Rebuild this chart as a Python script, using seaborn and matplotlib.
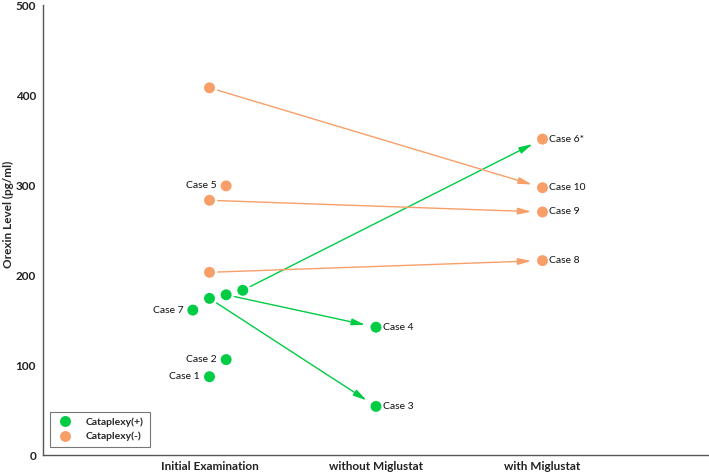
import pandas as pd
import matplotlib.pyplot as plt
import seaborn as sns

sns.set_style('white')
plt.rcParams['font.family'] = ['Lato', 'DejaVu Sans']

# -------------------------
# Data
# -------------------------
stages = ['Initial Examination', 'without Miglustat', 'with Miglustat']
green = '#00CC44'
orange = '#F89F69'

# every plotted point: case label, stage index, small horizontal offset, orexin level, group
point_case = ['Case 1', 'Case 2', 'Case 7', '', '', '', '', '', 'Case 5', '',
              'Case 3', 'Case 4', 'Case 6*', 'Case 8', 'Case 9', 'Case 10']
point_stage = [0, 0, 0, 0, 0, 0, 0, 0, 0, 0, 1, 1, 2, 2, 2, 2]
point_offset = [0, 0.1, -0.1, 0, 0.1, 0.2, 0, 0, 0.1, 0, 0, 0, 0, 0, 0, 0]
point_level = [87, 106, 161, 174, 178, 183, 203, 283, 299, 408, 54, 142, 351, 216, 270, 297]
point_group = ['Cataplexy(+)'] * 6 + ['Cataplexy(-)'] * 4 + \
              ['Cataplexy(+)'] * 2 + ['Cataplexy(-)'] * 4
label_side = ['left', 'left', 'left', '', '', '', '', '', 'left', '',
              'right', 'right', 'right', 'right', 'right', 'right']

# arrows: index of start point -> index of end point, colour group
arrow_from = [3, 4, 5, 6, 7, 9]
arrow_to = [10, 11, 12, 13, 14, 15]
arrow_group = ['Cataplexy(+)'] * 3 + ['Cataplexy(-)'] * 3

df = pd.DataFrame({
    'case': point_case,
    'x': [s + 1 + o for s, o in zip(point_stage, point_offset)],
    'level': point_level,
    'group': point_group,
    'side': label_side,
})

palette = {'Cataplexy(+)': green, 'Cataplexy(-)': orange}

# -------------------------
# Plot
# -------------------------
fig = plt.figure(figsize=(7.09, 4.73), dpi=100)
ax = fig.add_axes([43 / 709, 18 / 473, 666 / 709, 450 / 473])

for a, b, g in zip(arrow_from, arrow_to, arrow_group):
    ax.annotate('', xy=(df.x[b], df.level[b]), xytext=(df.x[a], df.level[a]),
                arrowprops=dict(arrowstyle='-|>,head_length=0.8,head_width=0.2',
                                color=palette[g], lw=1.0,
                                shrinkA=6, shrinkB=8), zorder=2)

sns.scatterplot(data=df, x='x', y='level', hue='group', palette=palette,
                hue_order=['Cataplexy(+)', 'Cataplexy(-)'],
                s=62, edgecolor='none', ax=ax, zorder=3)

for _, r in df.iterrows():
    if not r.case:
        continue
    if r.side == 'left':
        ax.annotate(r.case, (r.x, r.level), xytext=(-7, 0), textcoords='offset points',
                    ha='right', va='center', fontsize=7.5, color='#111111')
    else:
        ax.annotate(r.case, (r.x, r.level), xytext=(5, 0), textcoords='offset points',
                    ha='left', va='center', fontsize=7.5, color='#111111')

ax.set_xlim(0, 4)
ax.set_ylim(0, 500)
ax.set_xticks([1, 2, 3])
ax.set_xticklabels(stages)
ax.set_yticks([0, 100, 200, 300, 400, 500])
ax.set_xlabel('')
ax.set_ylabel('Orexin Level (pg/ml)', fontsize=8.5, fontweight='bold')
ax.yaxis.set_label_coords(-0.043, 0.535)

for lbl in ax.get_xticklabels() + ax.get_yticklabels():
    lbl.set_fontweight('bold')
    lbl.set_fontsize(8.5)
    lbl.set_color('#222222')

ax.tick_params(axis='both', direction='in', length=5, width=0.8, color='#555555', pad=4)
ax.tick_params(axis='y', pad=5)
sns.despine(ax=ax)
for sp in ['left', 'bottom']:
    ax.spines[sp].set_color('#555555')
    ax.spines[sp].set_linewidth(1.0)

leg = ax.legend(loc='lower left', bbox_to_anchor=(7 / 666, 8 / 450), borderaxespad=0,
                frameon=True, fancybox=False, edgecolor='#555555', fontsize=7.5,
                handlelength=1.8, handletextpad=1.1, borderpad=0.55,
                labelspacing=0.45, markerscale=1.0)
leg.get_frame().set_linewidth(0.8)
for t in leg.get_texts():
    t.set_fontweight('bold')

plt.savefig('out.png', dpi=100)
